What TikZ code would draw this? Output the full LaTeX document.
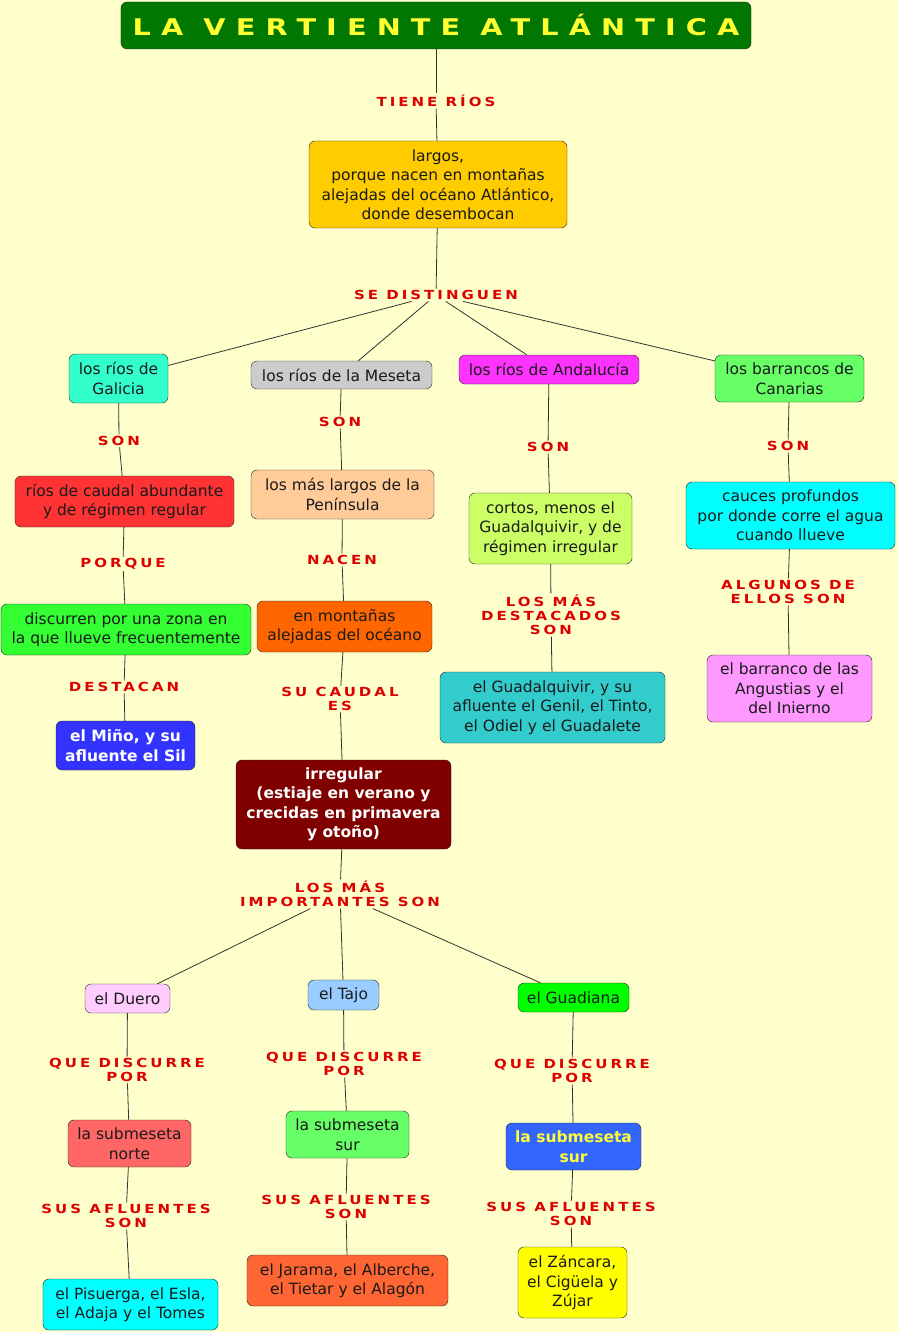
\documentclass[tikz,border=0pt]{standalone}
\usepackage{fontspec}
\setmainfont{DejaVu Sans}
\newfontfamily\rotulofam[FakeStretch=1.2,LetterSpace=24]{DejaVu Sans}
\newfontfamily\titulofam[FakeStretch=1.25,LetterSpace=44]{DejaVu Sans}
\definecolor{fondo}{HTML}{FFFFCC}
\definecolor{rojo}{HTML}{DD0000}
\definecolor{texto}{HTML}{1A1A1A}
\definecolor{linea}{HTML}{333333}
\definecolor{amarillo}{HTML}{FFFF33}

\begin{document}
\begin{tikzpicture}[x=1bp, y=-1bp, every node/.style={align=center},
  caja/.style={draw=black!85, rounded corners=6bp, text=texto, inner sep=2bp,
    font=\fontsize{15.5bp}{19.5bp}\selectfont},
  rotulo/.style={text=rojo, inner sep=1.5bp,
    font=\rotulofam\bfseries\fontsize{12.5bp}{14bp}\selectfont},
  enlace/.style={draw=linea, line width=0.8bp}]
\useasboundingbox (0,0) rectangle (898,1332);
\fill[fondo] (0,0) rectangle (898,1332);

% title and first level
\node[draw=black!85, rounded corners=6bp, fill={rgb,255:red,0;green,119;blue,0}, text=amarillo,
  minimum width=630bp, minimum height=47bp, font=\titulofam\bfseries\fontsize{23bp}{24bp}\selectfont]
  (titulo) at (436,25.5) {LA VERTIENTE ATLÁNTICA};
\node[rotulo] (tiene) at (436,101) {TIENE RÍOS};
\node[caja, fill={rgb,255:red,255;green,204;blue,0}, minimum width=258bp, minimum height=87bp]
  (largos) at (438,184.5) {largos,\\porque nacen en montañas\\alejadas del océano Atlántico,\\donde desembocan};
\node[rotulo] (distinguen) at (436,295) {SE DISTINGUEN};

\node[caja, fill={rgb,255:red,51;green,255;blue,204}, minimum width=99bp, minimum height=49bp]
  (galicia) at (118.5,378.5) {los ríos de\\Galicia};
\node[caja, fill={rgb,255:red,204;green,204;blue,204}, minimum width=181bp, minimum height=28bp]
  (meseta) at (341.5,375) {los ríos de la Meseta};
\node[caja, fill={rgb,255:red,255;green,51;blue,255}, minimum width=180bp, minimum height=29bp]
  (andalucia) at (549,369.5) {los ríos de Andalucía};
\node[caja, fill={rgb,255:red,102;green,255;blue,102}, minimum width=149bp, minimum height=47bp]
  (canarias) at (789.5,378.5) {los barrancos de\\Canarias};

% Galicia
\node[rotulo] (sonGal) at (119,441) {SON};
\node[caja, fill={rgb,255:red,255;green,51;blue,51}, minimum width=219bp, minimum height=51bp]
  (abundante) at (124.5,501.5) {ríos de caudal abundante\\y de régimen regular};
\node[rotulo] (porque) at (123,564) {PORQUE};
\node[caja, fill={rgb,255:red,51;green,255;blue,51}, minimum width=250bp, minimum height=51bp]
  (discurren) at (126,629.5) {discurren por una zona en\\la que llueve frecuentemente};
\node[rotulo] (destacan) at (124,687) {DESTACAN};
\node[caja, fill={rgb,255:red,51;green,51;blue,255}, text=white, minimum width=139bp, minimum height=49bp]
  (mino) at (125.5,745.5) {\bfseries el Miño, y su\\\bfseries afluente el Sil};

% Meseta
\node[rotulo] (sonMes) at (340,422) {SON};
\node[caja, fill={rgb,255:red,255;green,204;blue,153}, minimum width=183bp, minimum height=49bp]
  (maslargos) at (342.5,494.5) {los más largos de la\\Península};
\node[rotulo] (nacen) at (342,560) {NACEN};
\node[caja, fill={rgb,255:red,255;green,102;blue,0}, minimum width=175bp, minimum height=51bp]
  (montanas) at (344.5,626.5) {en montañas\\alejadas del océano};
\node[rotulo] (sucaudal) at (340,699) {SU CAUDAL\\ES};
\node[caja, fill={rgb,255:red,128;green,0;blue,0}, text=white, minimum width=215bp, minimum height=89bp,
  font=\bfseries\fontsize{15.5bp}{19.5bp}\selectfont]
  (irregular) at (343.5,804.5) {irregular\\(estiaje en verano y\\crecidas en primavera\\y otoño)};
\node[rotulo] (importantes) at (340,894) {LOS MÁS\\IMPORTANTES SON};

\node[caja, fill={rgb,255:red,255;green,204;blue,255}, minimum width=85bp, minimum height=29bp]
  (duero) at (127.5,998.5) {el Duero};
\node[caja, fill={rgb,255:red,153;green,204;blue,255}, minimum width=71bp, minimum height=30bp]
  (tajo) at (343.5,995) {el Tajo};
\node[caja, fill={rgb,255:red,0;green,255;blue,0}, minimum width=111bp, minimum height=29bp]
  (guadiana) at (573.5,997.5) {el Guadiana};

\node[rotulo] (porDuero) at (127,1070) {QUE DISCURRE\\POR};
\node[rotulo] (porTajo) at (344,1064) {QUE DISCURRE\\POR};
\node[rotulo] (porGuadiana) at (572,1071) {QUE DISCURRE\\POR};

\node[caja, fill={rgb,255:red,255;green,102;blue,102}, minimum width=123bp, minimum height=47bp]
  (norte) at (129.5,1143.5) {la submeseta\\norte};
\node[caja, fill={rgb,255:red,102;green,255;blue,102}, minimum width=123bp, minimum height=47bp]
  (surTajo) at (347.5,1134.5) {la submeseta\\sur};
\node[caja, fill={rgb,255:red,51;green,102;blue,255}, text=amarillo, minimum width=135bp, minimum height=47bp,
  font=\bfseries\fontsize{15.5bp}{19.5bp}\selectfont]
  (surGuadiana) at (573.5,1146.5) {la submeseta\\sur};

\node[rotulo] (aflDuero) at (126,1216) {SUS AFLUENTES\\SON};
\node[rotulo] (aflTajo) at (346,1207) {SUS AFLUENTES\\SON};
\node[rotulo] (aflGuadiana) at (571,1214) {SUS AFLUENTES\\SON};

\node[caja, fill={rgb,255:red,0;green,255;blue,255}, minimum width=175bp, minimum height=51bp]
  (pisuerga) at (130.5,1304.5) {el Pisuerga, el Esla,\\el Adaja y el Tomes};
\node[caja, fill={rgb,255:red,255;green,102;blue,51}, minimum width=201bp, minimum height=51bp]
  (jarama) at (347.5,1280.5) {el Jarama, el Alberche,\\el Tietar y el Alagón};
\node[caja, fill={rgb,255:red,255;green,255;blue,0}, minimum width=109bp, minimum height=71bp]
  (zancara) at (572.5,1282.5) {el Záncara,\\el Cigüela y\\Zújar};

% Andalucia
\node[rotulo] (sonAnd) at (548,447) {SON};
\node[caja, fill={rgb,255:red,204;green,255;blue,102}, minimum width=163bp, minimum height=71bp]
  (cortos) at (550.5,528.5) {cortos, menos el\\Guadalquivir, y de\\régimen irregular};
\node[rotulo] (destacados) at (551,615) {LOS MÁS\\DESTACADOS\\SON};
\node[caja, fill={rgb,255:red,51;green,204;blue,204}, minimum width=225bp, minimum height=71bp]
  (guadalquivir) at (552.5,707.5) {el Guadalquivir, y su\\afluente el Genil, el Tinto,\\el Odiel y el Guadalete};

% Canarias
\node[rotulo] (sonCan) at (788,446) {SON};
\node[caja, fill={rgb,255:red,0;green,255;blue,255}, minimum width=209bp, minimum height=67bp]
  (cauces) at (790.5,515.5) {cauces profundos\\por donde corre el agua\\cuando llueve};
\node[rotulo] (algunos) at (788,592) {ALGUNOS DE\\ELLOS SON};
\node[caja, fill={rgb,255:red,255;green,153;blue,255}, minimum width=165bp, minimum height=67bp]
  (barranco) at (789.5,688.5) {el barranco de las\\Angustias y el\\del Inierno};

% connectors
\draw[enlace] (titulo) -- (tiene);
\draw[enlace] (tiene) -- (largos);
\draw[enlace] (largos) -- (distinguen);
\draw[enlace] (distinguen) -- (galicia);
\draw[enlace] (distinguen) -- (meseta);
\draw[enlace] (distinguen) -- (andalucia);
\draw[enlace] (distinguen) -- (canarias);

\draw[enlace] (galicia) -- (sonGal);
\draw[enlace] (sonGal) -- (abundante);
\draw[enlace] (abundante) -- (porque);
\draw[enlace] (porque) -- (discurren);
\draw[enlace] (discurren) -- (destacan);
\draw[enlace] (destacan) -- (mino);

\draw[enlace] (meseta) -- (sonMes);
\draw[enlace] (sonMes) -- (maslargos);
\draw[enlace] (maslargos) -- (nacen);
\draw[enlace] (nacen) -- (montanas);
\draw[enlace] (montanas) -- (sucaudal);
\draw[enlace] (sucaudal) -- (irregular);
\draw[enlace] (irregular) -- (importantes);
\draw[enlace] (importantes) -- (duero);
\draw[enlace] (importantes) -- (tajo);
\draw[enlace] (importantes) -- (guadiana);

\draw[enlace] (duero) -- (porDuero);
\draw[enlace] (porDuero) -- (norte);
\draw[enlace] (norte) -- (aflDuero);
\draw[enlace] (aflDuero) -- (pisuerga);
\draw[enlace] (tajo) -- (porTajo);
\draw[enlace] (porTajo) -- (surTajo);
\draw[enlace] (surTajo) -- (aflTajo);
\draw[enlace] (aflTajo) -- (jarama);
\draw[enlace] (guadiana) -- (porGuadiana);
\draw[enlace] (porGuadiana) -- (surGuadiana);
\draw[enlace] (surGuadiana) -- (aflGuadiana);
\draw[enlace] (aflGuadiana) -- (zancara);

\draw[enlace] (andalucia) -- (sonAnd);
\draw[enlace] (sonAnd) -- (cortos);
\draw[enlace] (cortos) -- (destacados);
\draw[enlace] (destacados) -- (guadalquivir);

\draw[enlace] (canarias) -- (sonCan);
\draw[enlace] (sonCan) -- (cauces);
\draw[enlace] (cauces) -- (algunos);
\draw[enlace] (algunos) -- (barranco);
\end{tikzpicture}
\end{document}
